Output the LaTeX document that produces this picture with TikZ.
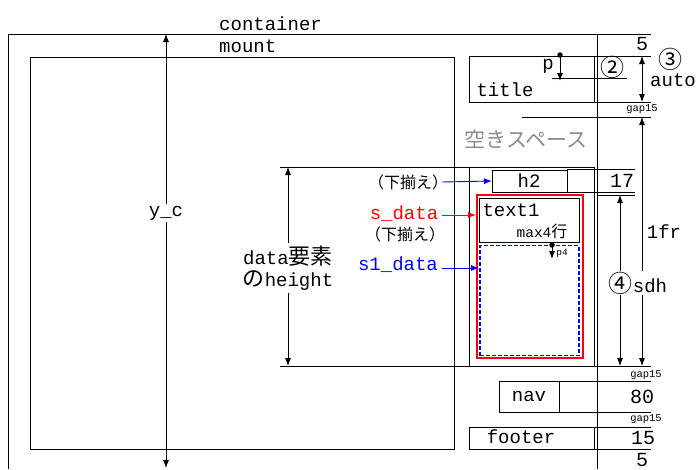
\documentclass[tikz,border=0pt]{standalone}
\usepackage{fontspec}
\setmonofont{Liberation Mono}
\newfontfamily\jp{Noto Sans CJK JP}
\usetikzlibrary{arrows.meta}
\newcommand\mf[1]{\fontsize{#1}{#1}\selectfont\ttfamily}
\newcommand\jf[1]{\jp\fontsize{#1}{#1}\selectfont}
\definecolor{emptygray}{RGB}{140,140,140}
\begin{document}
\begin{tikzpicture}[x=1pt,y=-1pt,
  box/.style={draw, line width=1pt, inner sep=0pt, outer sep=0pt, anchor=north west},
  txt/.style={inner sep=0pt, font=\mf{19}},
  num/.style={inner sep=0pt, font=\mf{20}},
  gap/.style={inner sep=0pt, font=\mf{10.5}},
  circ/.style={inner sep=0pt, font=\jf{24}},
  rule/.style={line width=0.8pt},
  arr/.style={line width=0.9pt, -{Latex[length=8pt,width=6pt]}},
  dim/.style={line width=0.8pt, {Latex[length=8pt,width=6pt]}-{Latex[length=8pt,width=6pt]}},
  dotc/.style={circle, fill, inner sep=0pt, minimum size=5.5pt}]
\useasboundingbox (0,0) rectangle (696,469);
\fill[white] (0,0) rectangle (696,469);

% container frame
\coordinate (cbl) at (8,469);
\coordinate (ctl) at (8,34);
\coordinate (ctr) at (651,34);
\coordinate (cvt) at (597,34);
\coordinate (cvb) at (597,469);
\draw[line width=1pt] (cbl) -- (ctl) -- (ctr);
\draw[line width=1pt] (cvt) -- (cvb);
\node[txt, anchor=west] (lcontainer) at (219,24) {container};
\node[txt, anchor=west] (lmount) at (219,46) {mount};

% mount box (left)
\node[box, minimum width=424pt, minimum height=392pt] (mountbox) at (30,57) {};

% y_c
\coordinate (yct) at (166,34);
\coordinate (ycb) at (166,468);
\draw[dim] (yct) -- (ycb);
\node[txt, fill=white, inner sep=2pt] (lyc) at (166,213) {y\_c};

% title
\node[box, minimum width=125pt, minimum height=46pt] (title) at (469,56) {};
\node[txt] (ltitle) at (505,90) {title};
\node[txt] (lp) at (548,66) {p};
\node[dotc] (pdot) at (560,55) {};
\coordinate (pend) at (560,81);
\draw[arr] (pdot.center) -- (pend);
\coordinate (l2a) at (552,78);
\coordinate (l2b) at (627,78);
\draw[rule] (l2a) -- (l2b);
\node[circ] (c2) at (612,67) {②};

% right ruler
\coordinate (r56) at (651,56);
\draw[rule] (title.north east) -- (r56);
\coordinate (r102) at (651,102);
\draw[rule] (title.south east) -- (r102);
\coordinate (r117a) at (522,117);
\coordinate (r117b) at (651,117);
\draw[rule] (r117a) -- (r117b);
\node[num] (n5a) at (642,44) {5};
\coordinate (a3t) at (642,56);
\coordinate (a3b) at (642,102);
\draw[dim] (a3t) -- (a3b);
\node[circ] (c3) at (670,59) {③};
\node[txt] (lauto) at (673,80) {auto};
\node[gap] (g1) at (642,109) {gap15};

\node[inner sep=0pt, font=\jf{21}, text=emptygray] (lempty) at (526,139) {空きスペース};

% section with h2 and data
\node[box, minimum width=125pt, minimum height=199pt] (sec) at (469,167) {};
\node[box, minimum width=75pt, minimum height=22pt] (h2) at (492,170) {};
\node[txt] (lh2) at (529,181) {h2};
\coordinate (r169a) at (567,169);
\coordinate (r169b) at (635,169);
\draw[rule] (r169a) -- (r169b);
\coordinate (r192) at (635,192);
\draw[rule] (h2.south east) -- (r192);
\coordinate (r195a) at (597,195);
\coordinate (r195b) at (635,195);
\draw[rule] (r195a) -- (r195b);
\node[num] (n17) at (622,181) {17};

\node[box, draw=red, line width=1.6pt, minimum width=106pt, minimum height=163pt] (sdata) at (477,195) {};
\node[box, minimum width=100pt, minimum height=44pt] (text1) at (479.5,198.5) {};
\node[txt] (ltext1) at (511,210) {text1};
\node[inner sep=0pt] (lmax) at (542,231) {{\mf{14.5}max4}{\jf{16}行}};
\node[box, draw=blue, line width=1.2pt, dash pattern=on 4pt off 2pt, minimum width=99pt, minimum height=110pt] (s1data) at (480,245.5) {};
\node[dotc] (p4dot) at (552,245) {};
\coordinate (p4end) at (552,259);
\draw[arr] (p4dot.center) -- (p4end);
\node[inner sep=0pt, font=\mf{9.5}] (lp4) at (562,253) {p4};

% data height
\coordinate (d167) at (280,167);
\draw[rule] (d167) -- (sec.north west);
\coordinate (d366a) at (280,366);
\coordinate (d366b) at (651,366);
\draw[rule] (d366a) -- (d366b);
\coordinate (dht) at (288,167);
\coordinate (dhb) at (288,366);
\draw[dim] (dht) -- (dhb);
\node[fill=white, minimum width=96pt, minimum height=50pt, inner sep=0pt] (ldhbg) at (288,268) {};
\node[inner sep=0pt] (ldh1) at (288,256) {{\mf{19}data}{\jf{22}要素}};
\node[inner sep=0pt] (ldh2) at (288,281) {{\jf{22}の}{\mf{19}height}};

% labels on the left of the section
\node[inner sep=0pt, font=\jf{16}] (lsh2) at (408,182) {（下揃え）};
\coordinate (h2start) at (442,182);
\draw[arr, blue] (h2start) -- (h2.west);
\node[txt, text=red] (lsd) at (404,214) {s\_data};
\coordinate (sdtip) at (476,215);
\coordinate (sdstart) at (442,215);
\draw[arr, red] (sdstart) -- (sdtip);
\node[inner sep=0pt, font=\jf{16}] (lsd2) at (405,234) {（下揃え）};
\node[txt, text=blue] (ls1) at (398,265) {s1\_data};
\coordinate (s1tip) at (479,268);
\coordinate (s1start) at (442,268);
\draw[arr, blue] (s1start) -- (s1tip);

% sdh and 1fr
\coordinate (a4t) at (620,195);
\coordinate (a4b) at (620,366);
\draw[dim] (a4t) -- (a4b);
\coordinate (a1t) at (642,117);
\coordinate (a1b) at (642,366);
\draw[dim] (a1t) -- (a1b);
\node[txt] (l1fr) at (664,232) {1fr};
\node[fill=white, inner sep=1pt] (lsdh) at (638,283) {{\jf{24}④}{\mf{19}sdh}};

% nav
\node[box, minimum width=60pt, minimum height=31pt] (nav) at (499,381) {};
\node[txt] (lnav) at (529,396) {nav};
\node[gap] (g2) at (646,375) {gap15};
\coordinate (r381) at (651,381);
\draw[rule] (nav.north east) -- (r381);
\coordinate (r412) at (651,412);
\draw[rule] (nav.south east) -- (r412);
\node[num] (n80) at (642,397) {80};
\node[gap] (g3) at (646,419) {gap15};

% footer
\node[box, minimum width=125pt, minimum height=22pt] (footer) at (469,427) {};
\node[txt] (lfooter) at (521,437) {footer};
\coordinate (r427) at (651,427);
\draw[rule] (footer.north east) -- (r427);
\coordinate (r449) at (651,449);
\draw[rule] (footer.south east) -- (r449);
\node[num] (n15) at (643,438) {15};
\node[num] (n5b) at (642,460) {5};
\end{tikzpicture}
\end{document}
